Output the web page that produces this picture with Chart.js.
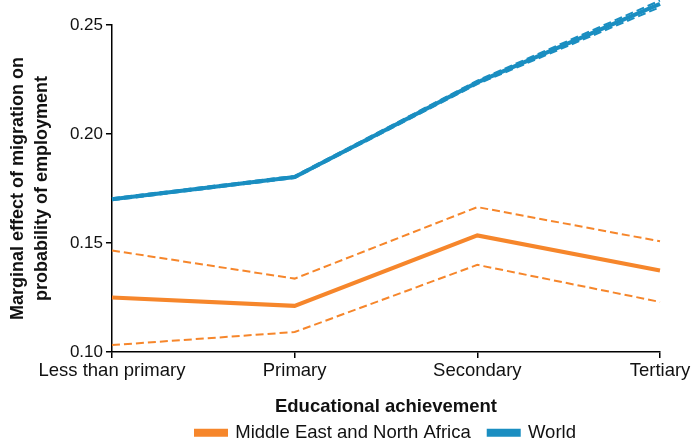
<!DOCTYPE html>
<html>
<head>
<meta charset="utf-8">
<script src="https://cdn.jsdelivr.net/npm/chart.js@4/dist/chart.umd.min.js"></script>
<style>
  html, body { margin: 0; padding: 0; background: #fff; }
  #wrap { width: 696px; height: 440px; }
</style>
</head>
<body>
<div id="wrap"><canvas id="myChart" width="696" height="440"></canvas></div>
<script>
// Education levels on the x axis
var levels = ["Less than primary", "Primary", "Secondary", "Tertiary"];

// Marginal effects with confidence bounds
var menaMid   = [0.125, 0.1212, 0.1535, 0.1374];
var menaUpper = [0.1466, 0.1337, 0.1665, 0.1508];
var menaLower = [0.1032, 0.1092, 0.140, 0.123];

var worldMid   = [0.1701, 0.1803, 0.2237, 0.2597];
var worldUpper = [0.1706, 0.1808, 0.2245, 0.2612];
var worldLower = [0.1696, 0.1798, 0.2229, 0.2582];

var yTicks = [0.10, 0.15, 0.20, 0.25];

var orange = "#f6862b";
var blue = "#1a8ec1";
var font = 'Liberation Sans';

function bound(label, data, color) {
  return {
    label: label,
    data: data,
    borderColor: color,
    backgroundColor: color,
    borderWidth: 2,
    borderDash: [8, 4],
    pointRadius: 0,
    tension: 0,
    clip: false
  };
}

function mid(label, data, color) {
  return {
    label: label,
    data: data,
    borderColor: color,
    backgroundColor: color,
    borderWidth: 4,
    pointRadius: 0,
    tension: 0,
    clip: false
  };
}

new Chart(document.getElementById("myChart"), {
  type: 'line',
  data: {
    labels: levels,
    datasets: [
      bound("mena_hi", menaUpper, orange),
      bound("mena_lo", menaLower, orange),
      bound("world_hi", worldUpper, blue),
      bound("world_lo", worldLower, blue),
      mid("Middle East and North Africa", menaMid, orange),
      mid("World", worldMid, blue)
    ]
  },
  options: {
    responsive: false,
    animation: false,
    layout: { padding: { top: 25, right: 36, left: 6, bottom: -12 } },
    plugins: {
      tooltip: { enabled: false },
      legend: {
        position: 'bottom',
        fullSize: false,
        labels: {
          filter: function (item) { return item.text.indexOf("_") < 0; },
          boxWidth: 30,
          boxHeight: 4,
          padding: 18,
          color: '#111',
          font: { family: font, size: 18.5 }
        }
      }
    },
    scales: {
      x: {
        offset: false,
        grid: { display: true, drawOnChartArea: false, drawTicks: true, tickLength: 6, color: '#000', lineWidth: 1.5 },
        border: { display: true, color: '#000', width: 1.5 },
        ticks: { color: '#111', padding: 2, maxRotation: 0, font: { family: font, size: 18.5 } },
        title: {
          display: true,
          text: 'Educational achievement',
          color: '#111',
          padding: { top: 12, bottom: -13 },
          font: { family: font, size: 18.5, weight: 'bold' }
        }
      },
      y: {
        min: 0.10,
        max: 0.25,
        afterBuildTicks: function (scale) {
          scale.ticks = yTicks.map(function (v) { return { value: v }; });
        },
        grid: { display: true, drawOnChartArea: false, drawTicks: true, tickLength: 6, color: '#000', lineWidth: 1.5 },
        border: { display: true, color: '#000', width: 1.5 },
        ticks: {
          color: '#111',
          padding: 3,
          font: { family: font, size: 17 },
          callback: function (v) { return Number(v).toFixed(2); }
        },
        title: {
          display: true,
          text: ['Marginal effect of migration on', 'probability of employment'],
          color: '#111',
          padding: { top: 0, bottom: 13 },
          font: { family: font, size: 18, weight: 'bold', lineHeight: 1.33 }
        }
      }
    }
  }
});
</script>
</body>
</html>
